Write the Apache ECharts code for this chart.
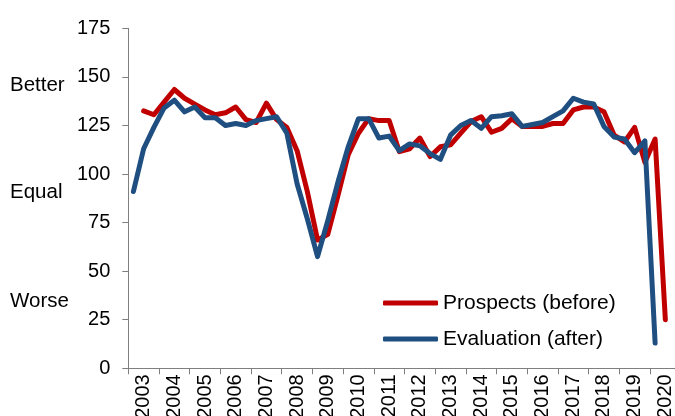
<!DOCTYPE html>
<html>
<head>
<meta charset="utf-8">
<script src="https://cdn.jsdelivr.net/npm/echarts@6/dist/echarts.min.js"></script>
<style>
html,body{margin:0;padding:0;background:#fff;}
#chart{width:675px;height:416px;}
</style>
</head>
<body>
<div id="chart"></div>
<script>
// Data (three survey waves per year)
var years = [2003,2004,2005,2006,2007,2008,2009,2010,2011,2012,2013,2014,2015,2016,2017,2018,2019,2020];
var wavesPerYear = 3;
var yTicks = [0,25,50,75,100,125,150,175];
var sideLabels = ['Better','Equal','Worse'];
var sideLabelValues = [147,92,36];

// Prospects (before): starts at wave 2 of 2003, ends wave 2 of 2020
var prospects = [null,
  132.5,130.5,137,143.5,139,136,133,130.5,131.5,134.5,128,126.5,136.5,128,124,112,91,66,69,89,110,121,128.5,127.5,127.5,
  111.5,113,118.5,109,114,115,121,127,129.5,121.5,123.5,128.5,124.5,124.5,124.5,126,126,133,134.5,134.5,132,120,116.5,124,106,118,25,
  null];
// Evaluation (after): wave 1 of 2003 to wave 1 of 2020
var evaluation = [
  91,113,124,134,138,132,134.5,129,129,125,126,125,127.5,128.5,129.5,121,95,77,57.5,76,96,114,128.5,128.5,118.5,119.5,
  112,115.5,114.5,110.5,107.5,120,125,127.5,123.5,129.5,130,131,124.5,125.5,126.5,129.5,132.5,139,137,136,124.5,119,118,111,117,13,
  null,null];

var categories = [];
years.forEach(function(y){ for (var w=1; w<=wavesPerYear; w++) categories.push(y + '-' + w); });

var chart = echarts.init(document.getElementById('chart'));
var FONT = '"Liberation Sans", Arial, sans-serif';

var option = {
  animation: false,
  backgroundColor: '#fff',
  grid: { left: 128.3, top: 28.3, width: 552.4, height: 340, containLabel: false, outerBoundsMode: 'none' },
  legend: {
    orient: 'vertical',
    left: 383,
    top: 291,
    padding: 0,
    itemWidth: 55,
    itemHeight: 5,
    itemGap: 12,
    icon: 'roundRect',
    textStyle: { fontFamily: FONT, fontSize: 21, color: '#000', lineHeight: 24 },
    data: ['Prospects (before)', 'Evaluation (after)']
  },
  xAxis: {
    type: 'category',
    data: categories,
    boundaryGap: true,
    axisLine: { show: true, lineStyle: { color: '#7f7f7f', width: 1 } },
    axisTick: { show: true, length: 6, lineStyle: { color: '#7f7f7f' },
      interval: function(i){ return i % wavesPerYear === 0; } },
    axisLabel: {
      interval: function(i){ return i % wavesPerYear === 1; },
      formatter: function(v){ return v.split('-')[0]; },
      rotate: 90, margin: 6,
      fontFamily: FONT, fontSize: 20, color: '#000'
    },
    splitLine: { show: false }
  },
  yAxis: {
    type: 'value',
    min: yTicks[0], max: yTicks[yTicks.length-1], interval: 25,
    axisLine: { show: true, lineStyle: { color: '#7f7f7f', width: 1 } },
    axisTick: { show: true, length: 6, lineStyle: { color: '#7f7f7f' } },
    axisLabel: { margin: 18, fontFamily: FONT, fontSize: 20, color: '#000' },
    splitLine: { show: false }
  },
  series: [
    {
      name: 'Prospects (before)', type: 'line', data: prospects,
      showSymbol: false, symbol: 'none', connectNulls: false,
      lineStyle: { color: '#C00000', width: 5, cap: 'round', join: 'round' },
      itemStyle: { color: '#C00000' }
    },
    {
      name: 'Evaluation (after)', type: 'line', data: evaluation,
      showSymbol: false, symbol: 'none', connectNulls: false,
      lineStyle: { color: '#1F4E80', width: 5, cap: 'round', join: 'round' },
      itemStyle: { color: '#1F4E80' }
    }
  ]
};
chart.setOption(option);

// Side labels placed through the y scale
var graphics = sideLabels.map(function(t, k){
  var py = chart.convertToPixel({yAxisIndex: 0}, sideLabelValues[k]);
  return { type: 'text', left: 10, top: py - 8,
    style: { text: t, fontFamily: FONT, fontSize: 20.5, fill: '#000' } };
});
chart.setOption({ graphic: graphics });
</script>
</body>
</html>
